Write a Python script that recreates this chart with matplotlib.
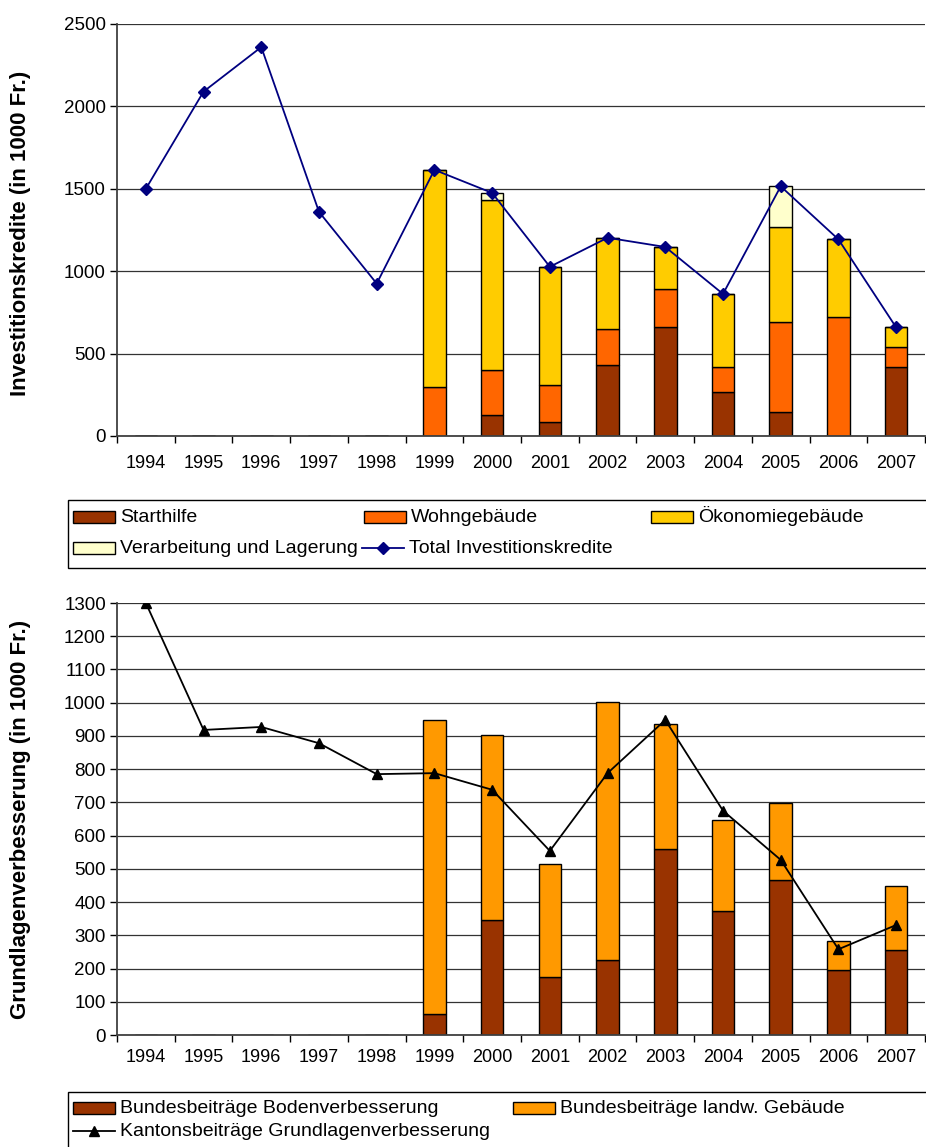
import numpy as np
import matplotlib.pyplot as plt
from matplotlib.patches import Rectangle
from matplotlib.lines import Line2D

plt.rcParams['font.family'] = ['Liberation Sans', 'DejaVu Sans']
plt.rcParams['font.size'] = 13

# Jahre
years = ['1994', '1995', '1996', '1997', '1998', '1999', '2000',
         '2001', '2002', '2003', '2004', '2005', '2006', '2007']

# Investitionskredite (in 1000 Fr.)
starthilfe = [0, 0, 0, 0, 0, 0, 125, 85, 430, 660, 265, 145, 0, 420]
wohngebaeude = [0, 0, 0, 0, 0, 300, 275, 225, 220, 230, 155, 545, 725, 120]
oekonomie = [0, 0, 0, 0, 0, 1315, 1030, 715, 550, 255, 440, 580, 470, 120]
verarbeitung = [0, 0, 0, 0, 0, 0, 45, 0, 0, 0, 0, 245, 0, 0]
total_kredite = [1500, 2090, 2360, 1360, 925, 1615, 1475, 1027, 1203, 1147, 862, 1515, 1193, 659]

# Grundlagenverbesserung (in 1000 Fr.)
bund_boden = [0, 0, 0, 0, 0, 62, 345, 176, 227, 561, 373, 465, 195, 255]
bund_gebaeude = [0, 0, 0, 0, 0, 886, 558, 338, 775, 374, 275, 232, 87, 192]
kanton = [1300, 918, 927, 878, 785, 788, 738, 554, 788, 948, 675, 527, 258, 331]

x = np.arange(len(years))
w = 0.39
edge = dict(edgecolor='black', linewidth=1.0)
W, H = 926, 1147

fig = plt.figure(figsize=(9.26, 11.47), dpi=100)
ax1 = fig.add_axes([117 / W, 1 - 436 / H, 808 / W, 412 / H])
ax2 = fig.add_axes([117 / W, 1 - 1035 / H, 808 / W, 432 / H])


def style_axis(ax, ymax, step, xpad):
    ax.set_xlim(-0.5, len(years) - 0.5)
    ax.set_ylim(0, ymax)
    ax.set_yticks(np.arange(0, ymax + 1, step))
    ax.set_xticks(x)
    ax.set_xticklabels(years)
    ax.set_xticks(np.arange(-0.5, len(years), 1), minor=True)
    ax.tick_params(axis='x', which='major', length=0, pad=xpad, labelsize=13)
    ax.tick_params(axis='x', which='minor', length=5, direction='out', width=1)
    ax.tick_params(axis='y', length=5, direction='out', width=1, pad=3, labelsize=13.5)
    for s in ['top', 'right']:
        ax.spines[s].set_visible(False)
    for s in ['left', 'bottom']:
        ax.spines[s].set_color('#404040')
        ax.spines[s].set_linewidth(1.3)
    ax.grid(axis='y', color='#333333', linewidth=0.9)
    ax.set_axisbelow(True)


def legend_frame(top, bottom):
    fig.patches.append(Rectangle((68 / W, 1 - bottom / H), 870 / W, (bottom - top) / H,
                                 transform=fig.transFigure, facecolor='white',
                                 edgecolor='black', linewidth=1.0, zorder=0))


def legend_entry(px, py, label, artist):
    # Excel-artiger Legendeneintrag: Symbol 42 px breit, Text dahinter
    if isinstance(artist, Line2D):
        fig.lines.append(Line2D([px / W, (px + 42) / W], [1 - py / H] * 2,
                                transform=fig.transFigure, color=artist.get_color(),
                                linewidth=artist.get_linewidth()))
        fig.lines.append(Line2D([(px + 21) / W], [1 - py / H], transform=fig.transFigure,
                                marker=artist.get_marker(), markersize=artist.get_markersize(),
                                color=artist.get_color(), linestyle='none'))
    else:
        fig.patches.append(Rectangle((px / W, 1 - (py + 6) / H), 42 / W, 12 / H,
                                     transform=fig.transFigure,
                                     facecolor=artist.patches[0].get_facecolor(),
                                     edgecolor='black', linewidth=1.0))
    fig.text((px + 47) / W, 1 - (py + 5) / H, label, fontsize=14, va='baseline', ha='left')


# oberes Diagramm
b1 = np.array(starthilfe)
b2 = b1 + np.array(wohngebaeude)
b3 = b2 + np.array(oekonomie)
h1 = ax1.bar(x, starthilfe, w, color='#993300', **edge)
h2 = ax1.bar(x, wohngebaeude, w, bottom=b1, color='#FF6600', **edge)
h3 = ax1.bar(x, oekonomie, w, bottom=b2, color='#FFCC00', **edge)
h4 = ax1.bar(x, verarbeitung, w, bottom=b3, color='#FFFFCC', **edge)
l1, = ax1.plot(x, total_kredite, color='#000080', linewidth=1.3,
               marker='D', markersize=6.5, zorder=5)
style_axis(ax1, 2500, 500, 14)
fig.text(21 / W, 1 - 233 / H, 'Investitionskredite (in 1000 Fr.)', rotation=90,
         fontsize=16, fontweight='bold', ha='center', va='center')

legend_frame(500, 568)
legend_entry(73, 517, 'Starthilfe', h1)
legend_entry(364, 517, 'Wohngebäude', h2)
legend_entry(651, 517, 'Ökonomiegebäude', h3)
legend_entry(73, 548, 'Verarbeitung und Lagerung', h4)
legend_entry(362, 548, 'Total Investitionskredite', l1)

# unteres Diagramm
g1 = ax2.bar(x, bund_boden, w, color='#993300', **edge)
g2 = ax2.bar(x, bund_gebaeude, w, bottom=bund_boden, color='#FF9900', **edge)
l2, = ax2.plot(x, kanton, color='black', linewidth=1.3,
               marker='^', markersize=7.5, zorder=5)
style_axis(ax2, 1300, 100, 10)
fig.text(21 / W, 1 - 819 / H, 'Grundlagenverbesserung (in 1000 Fr.)', rotation=90,
         fontsize=16, fontweight='bold', ha='center', va='center')

legend_frame(1092, 1160)
legend_entry(73, 1108, 'Bundesbeiträge Bodenverbesserung', g1)
legend_entry(513, 1108, 'Bundesbeiträge landw. Gebäude', g2)
legend_entry(73, 1131, 'Kantonsbeiträge Grundlagenverbesserung', l2)

fig.savefig('out.png', dpi=100)
